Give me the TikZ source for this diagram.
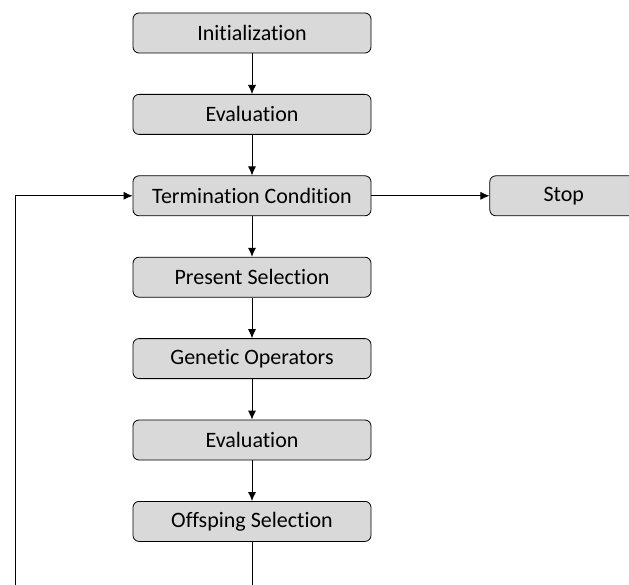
\documentclass[tikz,border=0pt]{standalone}
\usepackage{fontspec}
\setmainfont{Carlito}[Ligatures={NoCommon,NoRequired}]
\usepackage{tikz}
\usetikzlibrary{arrows.meta}
\usetikzlibrary{positioning}

\begin{document}
\begin{tikzpicture}[x=1pt,y=1pt,node distance=40.6pt,>={Latex[length=9pt,width=8pt]},
                    every step/.style=     {draw=black,thick,fill=black!15,rounded corners=6pt,
                                            minimum width=238pt,minimum height=40pt,inner sep=0pt,
                                            font=\fontsize{22}{26}\selectfont},
                    stop step/.style=      {every step,minimum width=148pt},
                    flow/.style=           {->,thick}]
      \useasboundingbox (0,0) rectangle (629,-585);
      \clip (0,0) rectangle (629,-585);
      \node[every step] (init) at (252,-33) {Initialization};
      \node[every step, below=of init] (eval) {Evaluation};
      \node[every step, below=of eval] (term) {Termination Condition};
      \node[every step, below=of term] (pres) {Present Selection};
      \node[every step, below=of pres] (gen) {Genetic Operators};
      \node[every step, below=of gen] (evaltwo) {Evaluation};
      \node[every step, below=of evaltwo] (offs) {Offsping Selection};
      \node[stop step, right=118pt of term] (stop) {Stop};
      \coordinate (cut) at (offs.south |- 0,-585);
      \coordinate (back) at (15,-585);
      \draw[flow] (init) -- (eval);
      \draw[flow] (eval) -- (term);
      \draw[flow] (term) -- (pres);
      \draw[flow] (pres) -- (gen);
      \draw[flow] (gen) -- (evaltwo);
      \draw[flow] (evaltwo) -- (offs);
      \draw[flow] (term) -- (stop);
      \draw[thick] (offs) -- (cut);
      \draw[flow] (back) |- (term);
\end{tikzpicture}
\end{document}
